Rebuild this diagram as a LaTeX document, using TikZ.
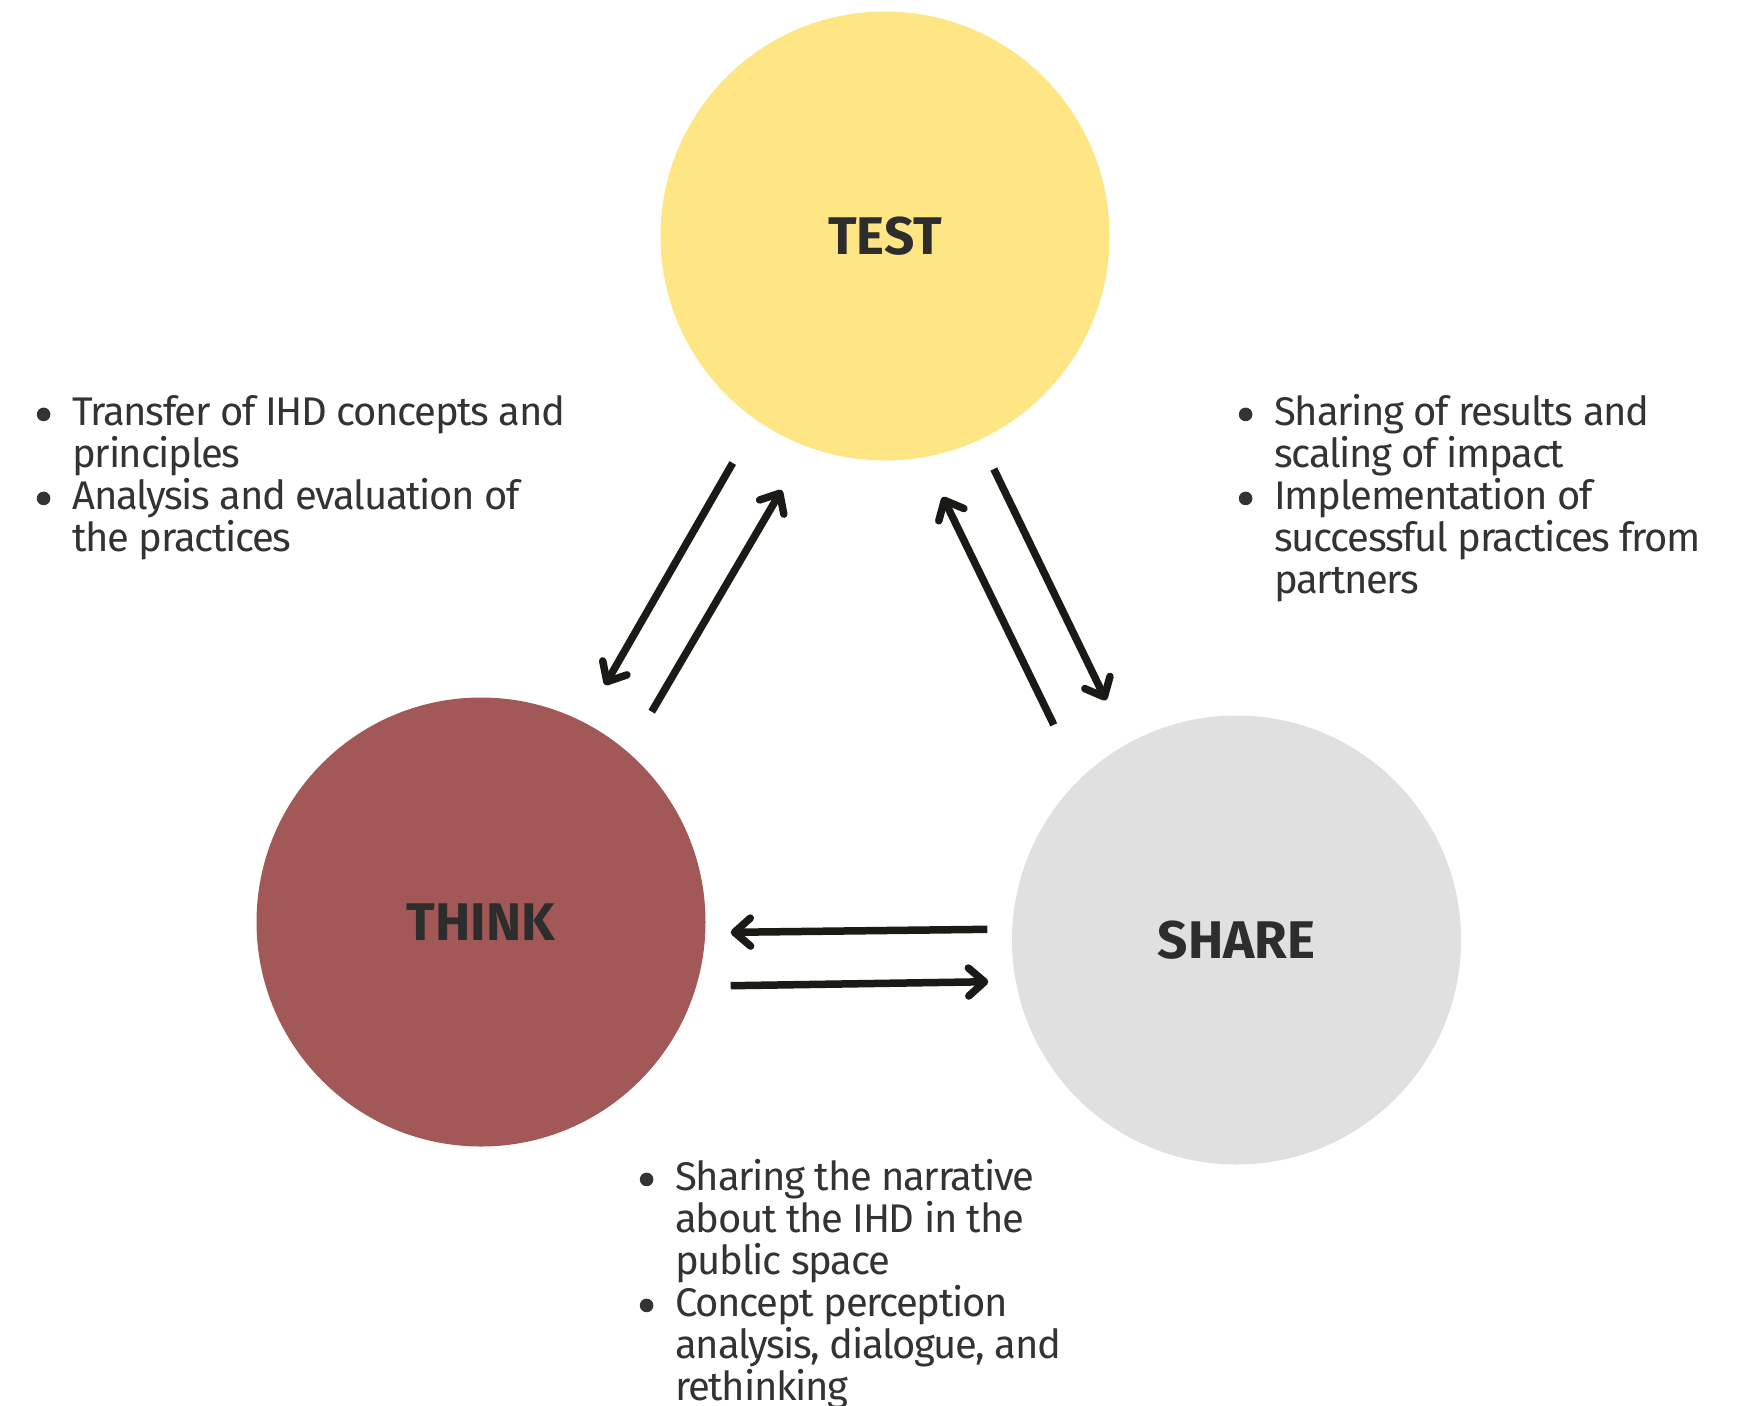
\documentclass[tikz,border=0pt]{standalone}
\usepackage{fontspec}
\setmainfont{Fira Sans}
\newfontfamily\notefont[LetterSpace=-3.3]{Fira Sans}
\usepackage{enumitem}
\usetikzlibrary{arrows.meta, calc}
\definecolor{testyellow}{RGB}{254,230,133}
\definecolor{thinkred}{RGB}{162,88,86}
\definecolor{sharegray}{RGB}{224,224,224}
\definecolor{labelgray}{RGB}{45,45,45}
\definecolor{bodygray}{RGB}{51,51,51}
\definecolor{arrowblack}{RGB}{27,26,23}
\setlength{\lineskiplimit}{-8pt}
\newcommand{\notedot}{\tikz[baseline=-5.5pt]\fill[bodygray] (0,0) circle (3.4pt);}
\newlist{notelist}{itemize}{1}
\setlist[notelist]{label=\notedot, nosep, leftmargin=20pt, labelsep=11pt}
\tikzset{
    stage/.style={
        circle,
        draw=none,
        minimum size=224.5pt,
        inner sep=0pt,
        outer sep=0pt,
        text=labelgray,
        font=\fontsize{26.5pt}{26.5pt}\selectfont\bfseries
    },
    flow/.style={
        draw=arrowblack,
        line width=3.75pt,
        -{Straight Barb[length=8pt, width=14pt, round]}
    },
    notes/.style={
        anchor=north west,
        inner sep=0pt,
        text width=300pt,
        text=bodygray,
        font=\notefont\fontsize{20pt}{21pt}\selectfont,
        execute at begin node={\setlength{\spaceskip}{4.7pt plus 1pt minus 0.5pt}}
    }
}
\begin{document}
\begin{tikzpicture}[x=0.5pt, y=-0.5pt]
\useasboundingbox[fill=white] (0,0) rectangle (1743,1405);

% Stages
\node[stage, fill=testyellow] (test) at (885,236) {TEST};
\node[stage, fill=thinkred] (think) at (481,922) {THINK};
\node[stage, fill=sharegray] (share) at (1236.5,940) {SHARE};

% Arrows between the stages
\draw[flow] ($(test)+(-152.3,227)$) -- ($(think)+(124,-237)$);
\draw[flow] ($(think)+(170.7,-210.3)$) -- ($(test)+(-103.3,254)$);
\draw[flow] ($(share)+(-182.7,-215.2)$) -- ($(test)+(57.7,260.9)$);
\draw[flow] ($(test)+(108.8,233)$) -- ($(share)+(-130.5,-239.7)$);
\draw[flow] ($(share)+(-249.2,-10.7)$) -- ($(think)+(249.7,10.3)$);
\draw[flow] ($(think)+(249.7,63.7)$) -- ($(share)+(-248.2,41.7)$);

% Notes
\node[notes] (thinknotes) at (32,383) {\begin{notelist}
\item Transfer of IHD concepts and\\ principles
\item Analysis and evaluation of\\ the practices
\end{notelist}};
\node[notes] (sharenotes) at (1234,383) {\begin{notelist}
\item Sharing of results and\\ scaling of impact
\item Implementation of\\ successful practices from\\ partners
\end{notelist}};
\node[notes] (publicnotes) at (635,1148) {\begin{notelist}
\item Sharing the narrative\\ about the IHD in the\\ public space
\item Concept perception\\ analysis, dialogue, and\\ rethinking
\end{notelist}};

\end{tikzpicture}
\end{document}
